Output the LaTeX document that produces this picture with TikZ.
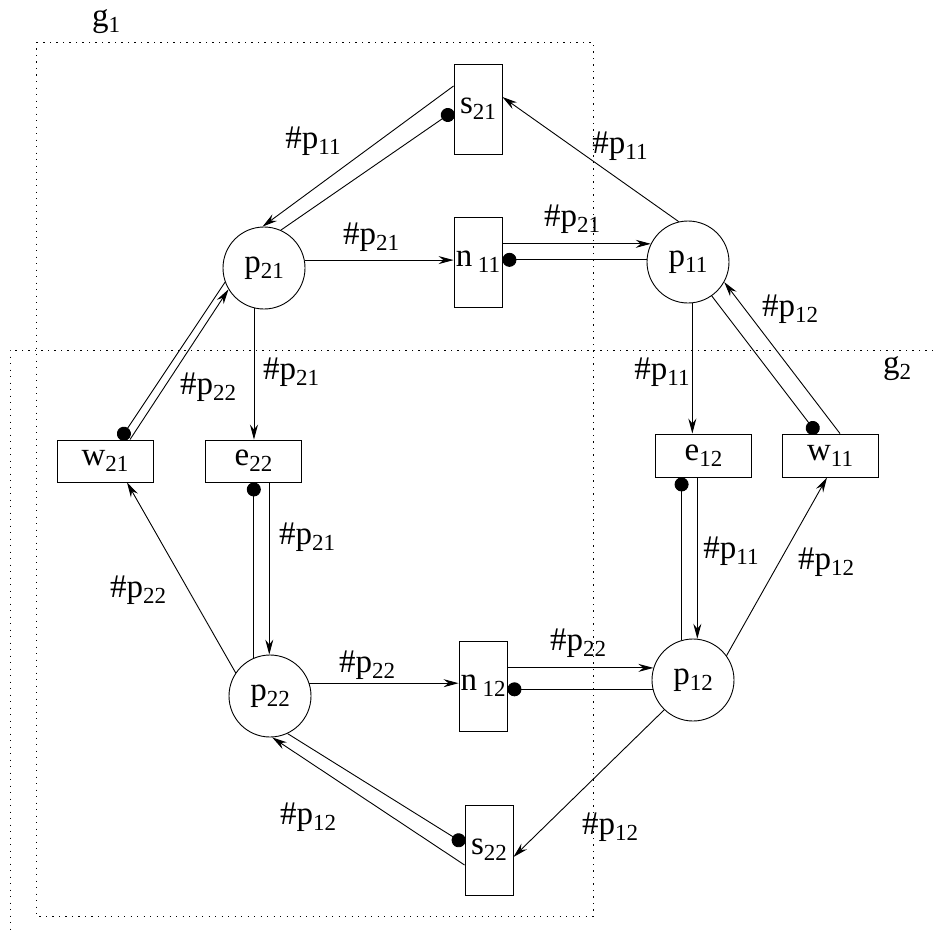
\documentclass[tikz,border=0pt]{standalone}
\usepackage{fontspec}
\setmainfont{Liberation Serif}
\usetikzlibrary{arrows.meta,calc}
\newcommand\sbx[2]{#1\raisebox{-6pt}{\fontsize{23}{23}\selectfont #2}}
\begin{document}
\begin{tikzpicture}[x=1pt,y=-1pt, line width=0.9pt,
  every node/.style={font=\fontsize{33}{36}\selectfont},
  place/.style={circle,draw,minimum size=82pt,inner sep=0pt},
  trans/.style={rectangle,draw,inner sep=0pt},
  vtrans/.style={trans,minimum width=48pt,minimum height=90pt},
  htrans/.style={trans,minimum width=96pt,minimum height=43pt},
  lab/.style={inner sep=0pt},
  arr/.style={-{Stealth[length=15pt,width=8pt,inset=5pt]}},
  inh/.style={{Circle[length=14pt]}-},
  grp/.style={dash pattern=on 1.2pt off 5.3pt}]
\useasboundingbox (0,0) rectangle (933,934);

% groups
\draw[grp] (36,42) rectangle (593,916);
\coordinate (g2a) at (933,350);
\coordinate (g2b) at (10,350);
\coordinate (g2c) at (10,934);
\draw[grp] (g2a) -- (g2b) -- (g2c);
\node[lab] (g1) at (106,22) {\sbx{g}{1}};
\node[lab] (g2) at (897,369) {\sbx{g}{2}};

% places
\node[place] (p21) at (264,268) {\sbx{p}{21}};
\node[place] (p11) at (688,262) {\sbx{p}{11}};
\node[place] (p22) at (270,696) {\sbx{p}{22}};
\node[place] (p12) at (693,680) {\sbx{p}{12}};

% transitions
\node[vtrans] (s21) at (478,109) {\sbx{s}{21}};
\node[vtrans] (n11) at (478,262) {\sbx{n\,}{11}};
\node[vtrans] (n12) at (483,686) {\sbx{n\,}{12}};
\node[vtrans] (s22) at (489,850) {\sbx{s}{22}};
\node[htrans,minimum height=42pt] (w21) at (105,461) {\sbx{w}{21}};
\node[htrans,minimum height=42pt] (e22) at (253.5,461) {\sbx{e}{22}};
\node[htrans] (e12) at (703.5,455.5) {\sbx{e}{12}};
\node[htrans] (w11) at (830,455.5) {\sbx{w}{11}};

% arcs top
\draw[arr] (p21.11) -- (p21.11 -| n11.west);
\draw[arr] (p11.154 -| n11.east) -- (p11.154);
\draw[inh] (p11.177 -| n11.east) -- (p11.177);
\draw[arr] (p11.103) -- ($(s21.east)+(0,-12)$);
\draw[arr] ($(s21.west)+(0,-23)$) -- (p21.92);
\draw[inh] ($(s21.west)+(0,2)$) -- (p21.66);

% left side
\draw[arr] (p21.256) -- (p21.256 |- e22.north);
\draw[inh] ($(w21.north)+(15,0)$) -- (p21.200);
\draw[arr] ($(w21.north)+(25,0)$) -- (p21.211);
\draw[inh] (p22.113 |- e22.south) -- (p22.113);
\draw[arr] (p22.91 |- e22.south) -- (p22.91);
\draw[arr] (p22.146) -- ($(w21.south)+(22,0)$);

% bottom
\draw[arr] (p22.18) -- (p22.18 -| n12.west);
\draw[arr] (p12.163 -| n12.east) -- (p12.163);
\draw[inh] (p12.193 -| n12.east) -- (p12.193);
\draw[inh] ($(s22.west)+(0,-6)$) -- (p22.295);
\draw[arr] ($(s22.west)+(0,15)$) -- (p22.273);
\draw[arr] (p12.226) -- ($(s22.east)+(0,7)$);

% right side
\draw[arr] (p11.276) -- (p11.276 |- e12.north);
\draw[inh] ($(w11.north)+(-13,0)$) -- (p11.305);
\draw[arr] ($(w11.north)+(10,0)$) -- (p11.331);
\draw[inh] (p12.106 |- e12.south) -- (p12.106);
\draw[arr] (p12.84 |- e12.south) -- (p12.84);
\draw[arr] (p12.36) -- ($(w11.south)+(-3,0)$);

% labels
\node[lab] (l1) at (313,141) {\sbx{\#p}{11}};
\node[lab] (l2) at (371,237) {\sbx{\#p}{21}};
\node[lab] (l3) at (620,146) {\sbx{\#p}{11}};
\node[lab] (l4) at (572,219) {\sbx{\#p}{21}};
\node[lab] (l5) at (790,309) {\sbx{\#p}{12}};
\node[lab] (l6) at (291,372) {\sbx{\#p}{21}};
\node[lab] (l7) at (208,387) {\sbx{\#p}{22}};
\node[lab] (l8) at (307,537) {\sbx{\#p}{21}};
\node[lab] (l9) at (138,590) {\sbx{\#p}{22}};
\node[lab] (l10) at (662,372) {\sbx{\#p}{11}};
\node[lab] (l11) at (731,551) {\sbx{\#p}{11}};
\node[lab] (l12) at (826,562) {\sbx{\#p}{12}};
\node[lab] (l13) at (367,665) {\sbx{\#p}{22}};
\node[lab] (l14) at (578,643) {\sbx{\#p}{22}};
\node[lab] (l15) at (308,817) {\sbx{\#p}{12}};
\node[lab] (l16) at (610,827) {\sbx{\#p}{12}};
\end{tikzpicture}
\end{document}
